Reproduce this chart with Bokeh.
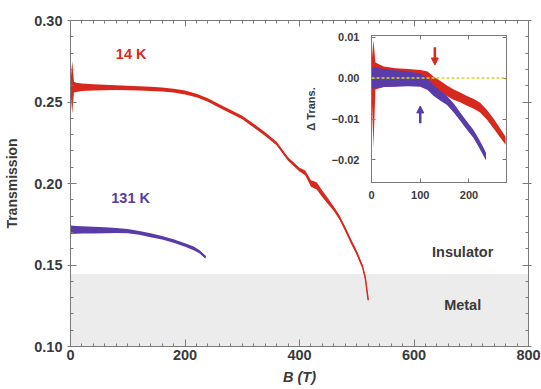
from bokeh.plotting import figure
from bokeh.layouts import column
from bokeh.models import (BoxAnnotation, Span, Arrow, NormalHead, LinearAxis,
                          FixedTicker, PrintfTickFormatter, Label, CustomJSTickFormatter)
from bokeh.embed import file_html
from bokeh.resources import INLINE
import numpy as np

# ---------------- main panel data ----------------
B_14K = [0, 3, 6, 10, 20, 40, 60, 80, 100, 120, 140, 160, 180, 200, 220, 240, 260, 280, 300,
         320, 340, 360, 380, 400, 410, 420, 430, 440, 450, 460, 470, 480, 490, 500, 510, 515, 520]
T_14K = [0.2592, 0.2590, 0.2592, 0.2590, 0.2590, 0.2590, 0.2589, 0.2588, 0.2586, 0.2584, 0.2581,
         0.2577, 0.2570, 0.2558, 0.2540, 0.2512, 0.2475, 0.2440, 0.2405, 0.2355, 0.2303,
         0.2245, 0.2150, 0.2085, 0.2065, 0.2000, 0.1985, 0.1935, 0.1890, 0.1845, 0.1790,
         0.1720, 0.1645, 0.1575, 0.1490, 0.1420, 0.1285]
NOISE_14K = [0.003, 0.016, 0.0033, 0.0028, 0.0023, 0.0019, 0.0017, 0.0015, 0.0014, 0.0013, 0.0013,
             0.0012, 0.0012, 0.0012, 0.0011, 0.0011, 0.0011, 0.0011, 0.0011, 0.0011, 0.0011,
             0.0011, 0.0011, 0.0011, 0.0015, 0.002, 0.0022, 0.002, 0.0018, 0.0013, 0.0013,
             0.0013, 0.0013, 0.0013, 0.0012, 0.0012, 0.0010]

B_131K = [0, 10, 20, 40, 60, 80, 100, 120, 140, 160, 180, 200, 215, 225, 236]
T_131K = [0.1716, 0.1716, 0.1715, 0.1714, 0.1713, 0.1712, 0.1708, 0.1697, 0.1683, 0.1667,
          0.1647, 0.1623, 0.1602, 0.1582, 0.1548]
NOISE_131K = [0.0026, 0.0024, 0.0022, 0.002, 0.0018, 0.0015, 0.0013, 0.0012, 0.0012, 0.0011,
              0.0011, 0.0011, 0.0011, 0.0010, 0.0009]

METAL_TOP = 0.1445

X_TICKS = [0, 200, 400, 600, 800]
X_MINOR = [v for v in range(0, 801, 20)]
Y_TICKS = [0.10, 0.15, 0.20, 0.25, 0.30]
Y_MINOR = [round(0.10 + 0.01 * i, 2) for i in range(21)]

# ---------------- inset data (Delta transmission) ----------------
dB_14K = [0, 4, 8, 25, 50, 75, 100, 115, 127, 140, 155, 168, 182, 195, 210, 223, 237, 251, 263, 275]
dT_14K = [0.0005, -0.0038, 0.0005, 0.0003, 0.0002, 0.0002, 0.0002, 0.0000, -0.0011, -0.0020,
          -0.0031, -0.0040, -0.0047, -0.0055, -0.0063, -0.0072, -0.0090, -0.0112, -0.0132, -0.0153]
dN_14K = [0.003, 0.0131, 0.0033, 0.0025, 0.0022, 0.002, 0.0018, 0.0016, 0.0015, 0.0014,
          0.0013, 0.0013, 0.0012, 0.0012, 0.0012, 0.0012, 0.0012, 0.0012, 0.0011, 0.0010]

dB_131K = [0, 10, 25, 50, 75, 100, 115, 127, 140, 155, 170, 182, 195, 209, 220, 230, 235]
dT_131K = [0.0, 0.0, 0.0, -0.0001, -0.0002, -0.0005, -0.0015, -0.0030, -0.0042, -0.0055,
           -0.0075, -0.0094, -0.0115, -0.0136, -0.0158, -0.0180, -0.0192]
dN_131K = [0.0026, 0.0025, 0.0022, 0.002, 0.0018, 0.0016, 0.0014, 0.0013, 0.0012, 0.0011,
           0.0011, 0.001, 0.001, 0.001, 0.001, 0.001, 0.0009]

INSET_X_TICKS = [0, 100, 200]
INSET_Y_TICKS = [-0.02, -0.01, 0.0, 0.01]
INSET_Y_LABELS = ["\u22120.02", "\u22120.01", "0.00", "0.01"]

ARROW_B = [130, 100]          # red (14 K) arrow, purple (131 K) arrow
ARROW_FROM = [0.0075, -0.0110]
ARROW_TO = [0.0032, -0.0068]

RED = "#d8291f"
PURPLE = "#5a3ca8"
AX = "#7a7a7a"
TXT = "#3a3a3a"
FONT = "Liberation Sans"

EMPTY = CustomJSTickFormatter(code="return ''")


def style_axis(ax, labels=True, fs="14.5px", tin=6, tout=3, mtin=3, standoff=4):
    ax.axis_line_color = AX
    ax.major_tick_line_color = AX
    ax.minor_tick_line_color = AX
    ax.major_tick_in = tin
    ax.major_tick_out = tout
    ax.minor_tick_in = mtin
    ax.minor_tick_out = 0
    ax.major_label_text_font = FONT
    ax.major_label_text_color = TXT
    ax.major_label_text_font_style = "bold"
    ax.axis_label_text_font = FONT
    ax.axis_label_text_color = TXT
    if labels:
        ax.major_label_text_font_size = fs
        ax.major_label_standoff = standoff
    else:
        ax.formatter = EMPTY
        ax.major_label_text_font_size = "1px"
        ax.major_label_standoff = 0


# ---------------- main figure ----------------
p = figure(width=541, height=389, x_range=(0, 800), y_range=(0.10, 0.30),
           output_backend="svg", toolbar_location=None,
           min_border_left=70, min_border_right=13, min_border_top=20, min_border_bottom=43)
p.grid.visible = False
p.outline_line_color = AX

p.xaxis.ticker = FixedTicker(ticks=X_TICKS, minor_ticks=X_MINOR)
p.yaxis.ticker = FixedTicker(ticks=Y_TICKS, minor_ticks=Y_MINOR)
p.yaxis.formatter = PrintfTickFormatter(format="%.2f")
style_axis(p.xaxis[0], tout=0, tin=7, standoff=3)
style_axis(p.yaxis[0], standoff=5)
p.xaxis.axis_label = "B (T)"
p.xaxis.axis_label_text_font_size = "14.5px"
p.xaxis.axis_label_text_font_style = "bold italic"
p.xaxis.axis_label_standoff = 6
p.yaxis.axis_label = "Transmission"
p.yaxis.axis_label_text_font_size = "14px"
p.yaxis.axis_label_text_font_style = "bold"
p.yaxis.axis_label_standoff = 11

top_ax = LinearAxis(ticker=FixedTicker(ticks=X_TICKS, minor_ticks=X_MINOR))
style_axis(top_ax, labels=False, tout=0)
p.add_layout(top_ax, "above")
right_ax = LinearAxis(ticker=FixedTicker(ticks=Y_TICKS, minor_ticks=Y_MINOR))
style_axis(right_ax, labels=False, tout=3)
p.add_layout(right_ax, "right")

p.add_layout(BoxAnnotation(top=METAL_TOP, fill_color="#ececec", fill_alpha=1.0,
                           line_alpha=0, level="underlay"))

b14 = np.array(B_14K); t14 = np.array(T_14K); n14 = np.array(NOISE_14K)
p.varea(x=b14, y1=t14 - n14, y2=t14 + n14, fill_color=RED)
p.line(b14, t14, line_color=RED, line_width=1.5)

b131 = np.array(B_131K); t131 = np.array(T_131K); n131 = np.array(NOISE_131K)
p.varea(x=b131, y1=t131 - n131, y2=t131 + n131, fill_color=PURPLE)
p.line(b131, t131, line_color=PURPLE, line_width=1.5)

for x, y, txt, col in [(106, 0.2794, "14 K", RED), (105, 0.1911, "131 K", PURPLE),
                       (685, 0.1577, "Insulator", TXT), (685, 0.1252, "Metal", TXT)]:
    p.add_layout(Label(x=x, y=y, text=txt, text_align="center", text_baseline="middle",
                       text_font=FONT, text_font_size="14.5px", text_font_style="bold",
                       text_color=col))

# ---------------- inset figure ----------------
ins = figure(frame_width=135, frame_height=147, x_range=(0, 277), y_range=(-0.0255, 0.0104),
             output_backend="svg", toolbar_location=None,
             min_border_left=70, min_border_right=13, min_border_top=10, min_border_bottom=30,
             border_fill_alpha=0, background_fill_color="white",
             styles={"position": "absolute", "left": "301px", "top": "25px"})
ins.grid.visible = False
ins.outline_line_color = AX
ins.xaxis.ticker = FixedTicker(ticks=INSET_X_TICKS)
ins.yaxis.ticker = FixedTicker(ticks=INSET_Y_TICKS)
ins.yaxis.major_label_overrides = dict(zip(INSET_Y_TICKS, INSET_Y_LABELS))
style_axis(ins.xaxis[0], fs="11px", tin=4, tout=0, mtin=0, standoff=8)
style_axis(ins.yaxis[0], fs="11px", tin=4, tout=0, mtin=0, standoff=12)
ins.yaxis.axis_label = "\u0394 Trans."
ins.yaxis.axis_label_text_font_size = "11px"
ins.yaxis.axis_label_text_font_style = "bold"
ins.yaxis.axis_label_standoff = 12

itop = LinearAxis(ticker=FixedTicker(ticks=INSET_X_TICKS))
style_axis(itop, labels=False, tin=4, tout=0, mtin=0)
ins.add_layout(itop, "above")
iright = LinearAxis(ticker=FixedTicker(ticks=INSET_Y_TICKS))
style_axis(iright, labels=False, tin=4, tout=0, mtin=0)
ins.add_layout(iright, "right")

db14 = np.array(dB_14K); dt14 = np.array(dT_14K); dn14 = np.array(dN_14K)
ins.varea(x=db14, y1=dt14 - dn14, y2=dt14 + dn14, fill_color=RED)
db131 = np.array(dB_131K); dt131 = np.array(dT_131K); dn131 = np.array(dN_131K)
ins.varea(x=db131, y1=dt131 - dn131, y2=dt131 + dn131, fill_color=PURPLE)

ins.add_layout(Span(location=0.0, dimension="width", line_color="#d6d62a",
                    line_dash="3 2", line_width=1.5))

for xb, y0, y1, col in zip(ARROW_B, ARROW_FROM, ARROW_TO, [RED, PURPLE]):
    ins.add_layout(Arrow(end=NormalHead(size=7, fill_color=col, line_color=col),
                         x_start=xb, y_start=y0, x_end=xb, y_end=y1,
                         line_color=col, line_width=2.5))

layout = column(p, ins, styles={"position": "relative"})
open("out.html", "w").write(file_html(layout, INLINE))
